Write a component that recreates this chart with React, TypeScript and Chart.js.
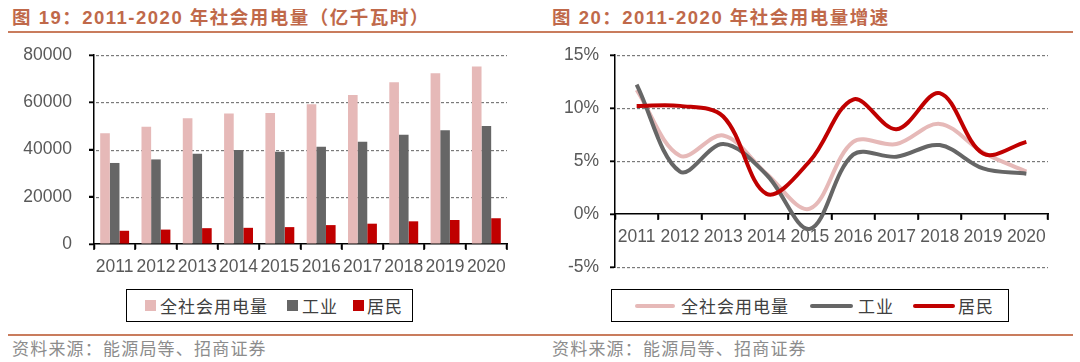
import React, { useEffect, useRef } from 'react';
import { Chart, registerables } from 'chart.js';

Chart.register(...registerables);

// ---------- data ----------
const years = ['2011', '2012', '2013', '2014', '2015', '2016', '2017', '2018', '2019', '2020'];
const seriesNames = ['全社会用电量', '工业', '居民'];
const seriesColors = ['#E6B9B8', '#666666', '#C00000'];

const totalUse = [46928, 49591, 53223, 55233, 55500, 59198, 63077, 68449, 72255, 75110];
const industryUse = [34300, 35800, 38200, 39800, 39100, 41200, 43300, 46200, 48200, 50000];
const residentUse = [5600, 6100, 6700, 6850, 7150, 8000, 8600, 9600, 10150, 10900];

const totalGrowth = [11.7, 5.5, 7.4, 3.8, 0.5, 6.8, 6.6, 8.5, 5.8, 4.0];
const industryGrowth = [12.2, 4.0, 6.6, 3.7, -1.4, 5.6, 5.4, 6.5, 4.3, 3.8];
const residentGrowth = [10.2, 10.2, 9.2, 1.9, 5.0, 10.8, 8.0, 11.4, 5.7, 6.8];

const leftAxisRange = { min: 0, max: 80000, step: 20000 };
const rightAxisRange = { min: -5, max: 15, step: 5 };

const titleLeft = '图 19：2011-2020 年社会用电量（亿千瓦时）';
const titleRight = '图 20：2011-2020 年社会用电量增速';
const sourceText = '资料来源：能源局等、招商证券';

// ---------- styles ----------
const LATIN = '"Liberation Sans", Arial, "Noto Sans CJK SC", sans-serif';
const CJK = '"Noto Sans CJK SC", "Liberation Sans", sans-serif';
const TICK_COLOR = '#595959';
const GRID_COLOR = '#7A7A7A';
const ACCENT = '#C0694A';
const RULE = '#C97C5D';

Chart.defaults.font.family = LATIN;

const fixY = (width: number) => (s: any) => {
  s.width = width;
  s.paddingTop = 0;
  s.paddingBottom = 0;
};

// dashed horizontal grid lines at each y tick (positions from the y scale)
const dashedGrid = {
  id: 'dashedGrid',
  afterDatasetsDraw(chart: any) {
    const { ctx, chartArea } = chart;
    const ys = chart.scales.y;
    const xs = chart.scales.x;
    ctx.save();
    ctx.globalCompositeOperation = 'destination-over';
    ctx.fillStyle = GRID_COLOR;
    ys.ticks.forEach((t: any) => {
      if (t.value === 0) return;
      const py = Math.round(ys.getPixelForValue(t.value));
      for (let x = chartArea.left + 2; x < chartArea.right; x += 5) {
        ctx.fillRect(x, py, Math.min(3, chartArea.right - x), 1.2);
      }
    });
    ctx.globalCompositeOperation = 'source-over';
    ctx.fillStyle = '#000';
    ys.ticks.forEach((t: any) => {
      const py = Math.round(ys.getPixelForValue(t.value));
      ctx.fillRect(ys.right - 5, py - 0.5, 5, 1.5);
    });
    const axisY = Math.round(ys.getPixelForValue(0));
    const n = xs.ticks.length;
    const step = xs.width / n;
    for (let k = 0; k <= n; k++) {
      const bx = Math.round(xs.left + k * step);
      ctx.fillRect(bx - 0.75, axisY, 1.5, 6);
    }
    ctx.restore();
  },
};

const yGrid = {
  display: true,
  drawOnChartArea: false,
  drawTicks: true,
  tickLength: 5,
  tickColor: '#000',
  tickWidth: 1.5,
};

const xGrid = {
  offset: true,
  drawOnChartArea: false,
  drawTicks: true,
  tickLength: 5,
  tickColor: '#000',
  tickWidth: 1.5,
};

function BarChart() {
  const ref = useRef<HTMLCanvasElement | null>(null);
  useEffect(() => {
    if (!ref.current) return;
    const chart = new Chart(ref.current, {
      type: 'bar',
      data: {
        labels: years,
        datasets: [totalUse, industryUse, residentUse].map((d, i) => ({
          label: seriesNames[i],
          data: d,
          backgroundColor: seriesColors[i],
          borderWidth: 0,
          categoryPercentage: 0.7,
          barPercentage: 1.0,
        })),
      },
      options: {
        animation: false,
        responsive: false,
        maintainAspectRatio: false,
        events: [],
        layout: { padding: { top: 15, right: 13, left: 0, bottom: 0 } },
        plugins: { legend: { display: false }, tooltip: { enabled: false } },
        scales: {
          x: {
            offset: true,
            grid: xGrid,
            border: { color: '#000', width: 1.5 },
            ticks: { color: TICK_COLOR, font: { size: 17.5 }, padding: 8, maxRotation: 0, autoSkip: false },
            afterFit: (s: any) => { s.height = 41; },
          },
          y: {
            min: leftAxisRange.min,
            max: leftAxisRange.max,
            grid: yGrid,
            border: { color: '#000', width: 1.5 },
            ticks: {
              stepSize: leftAxisRange.step,
              color: TICK_COLOR,
              font: { size: 17.5 },
              padding: 17,
              callback: (v: any) => String(v),
            },
            afterFit: fixY(94),
          },
        },
      },
      plugins: [dashedGrid],
    });
    return () => chart.destroy();
  }, []);
  return <canvas ref={ref} width={520} height={245} style={{ position: 'absolute', left: 0, top: 40, width: 520, height: 245 }} />;
}

function LineChart() {
  const ref = useRef<HTMLCanvasElement | null>(null);
  useEffect(() => {
    if (!ref.current) return;
    const layerOrder = [2, 1, 0];
    const chart = new Chart(ref.current, {
      type: 'line',
      data: {
        labels: years,
        datasets: [totalGrowth, industryGrowth, residentGrowth].map((d, i) => ({
          label: seriesNames[i],
          data: d,
          order: layerOrder[i],
          borderColor: seriesColors[i],
          backgroundColor: seriesColors[i],
          borderWidth: 4,
          pointRadius: 0,
          tension: 0.35,
          fill: false,
        })),
      },
      options: {
        animation: false,
        responsive: false,
        maintainAspectRatio: false,
        events: [],
        layout: { padding: { top: 15, right: 12, left: 0, bottom: 18 } },
        plugins: { legend: { display: false }, tooltip: { enabled: false } },
        scales: {
          x: {
            position: { y: 0 } as any,
            offset: true,
            grid: xGrid,
            border: { color: '#000', width: 1.5 },
            ticks: { color: TICK_COLOR, font: { size: 17.5 }, padding: 8, maxRotation: 0, autoSkip: false },
          },
          y: {
            min: rightAxisRange.min,
            max: rightAxisRange.max,
            grid: yGrid,
            border: { color: '#000', width: 1.5 },
            ticks: {
              stepSize: rightAxisRange.step,
              color: TICK_COLOR,
              font: { size: 17.5 },
              padding: 11,
              callback: (v: any) => v + '%',
            },
            afterFit: fixY(55),
          },
        },
      },
      plugins: [dashedGrid],
    });
    return () => chart.destroy();
  }, []);
  return <canvas ref={ref} width={500} height={245} style={{ position: 'absolute', left: 560, top: 40, width: 500, height: 245 }} />;
}

const titleStyle: React.CSSProperties = {
  position: 'absolute',
  top: 7,
  fontFamily: LATIN,
  fontSize: 18.5,
  fontWeight: 'bold',
  color: ACCENT,
  letterSpacing: 1.5,
  lineHeight: '21px',
  whiteSpace: 'nowrap',
};

const legendText: React.CSSProperties = {
  position: 'absolute',
  top: 5,
  fontFamily: CJK,
  fontSize: 17,
  letterSpacing: 1,
  lineHeight: '22px',
  color: '#404040',
  whiteSpace: 'nowrap',
};

const sourceStyle: React.CSSProperties = {
  position: 'absolute',
  top: 337,
  fontFamily: CJK,
  fontSize: 17,
  letterSpacing: 1.2,
  lineHeight: '22px',
  color: '#8C8C8C',
  whiteSpace: 'nowrap',
};

export default function App() {
  const leftSquares = [18, 160, 226];
  const leftTexts = [33, 175, 240];
  const rightLines = [{ x: 23, w: 40 }, { x: 198, w: 43 }, { x: 301, w: 42 }];
  const rightTexts = [69, 246, 346];
  return (
    <div style={{ position: 'absolute', left: 0, top: 0, width: 1080, height: 362, background: '#fff', overflow: 'hidden' }}>
      <div style={{ ...titleStyle, left: 12 }}>{titleLeft}</div>
      <div style={{ ...titleStyle, left: 552 }}>{titleRight}</div>
      <div style={{ position: 'absolute', left: 8, top: 31, width: 1065, height: 2, background: RULE }} />
      <BarChart />
      <LineChart />
      <div style={{ position: 'absolute', left: 126, top: 289, width: 287, height: 33, border: '1px solid #000', boxSizing: 'border-box' }}>
        {seriesNames.map((n, i) => (
          <React.Fragment key={n}>
            <div style={{ position: 'absolute', left: leftSquares[i], top: 10, width: 11, height: 11, background: seriesColors[i] }} />
            <div style={{ ...legendText, left: leftTexts[i] }}>{n}</div>
          </React.Fragment>
        ))}
      </div>
      <div style={{ position: 'absolute', left: 611, top: 289, width: 398, height: 33, border: '1px solid #000', boxSizing: 'border-box' }}>
        {seriesNames.map((n, i) => (
          <React.Fragment key={n}>
            <div style={{ position: 'absolute', left: rightLines[i].x, top: 14, width: rightLines[i].w, height: 4, borderRadius: 2, background: seriesColors[i] }} />
            <div style={{ ...legendText, left: rightTexts[i] }}>{n}</div>
          </React.Fragment>
        ))}
      </div>
      <div style={{ position: 'absolute', left: 8, top: 334, width: 1065, height: 2, background: RULE }} />
      <div style={{ ...sourceStyle, left: 12 }}>{sourceText}</div>
      <div style={{ ...sourceStyle, left: 552 }}>{sourceText}</div>
    </div>
  );
}
